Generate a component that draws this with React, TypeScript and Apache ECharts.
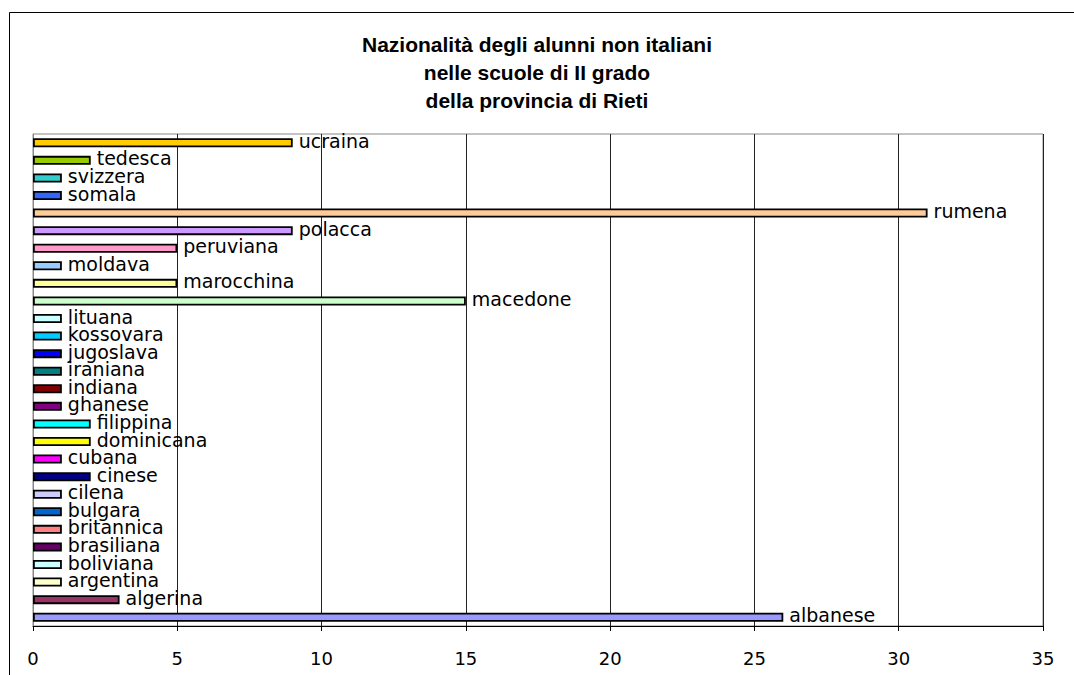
import React, { useEffect, useRef } from "react";
import * as echarts from "echarts";

const categories = [
  "albanese", "algerina", "argentina", "boliviana", "brasiliana", "britannica", "bulgara",
  "cilena", "cinese", "cubana", "dominicana", "filippina", "ghanese", "indiana", "iraniana",
  "jugoslava", "kossovara", "lituana", "macedone", "marocchina", "moldava", "peruviana",
  "polacca", "rumena", "somala", "svizzera", "tedesca", "ucraina",
];
const values = [
  26, 3, 1, 1, 1, 1, 1,
  1, 2, 1, 2, 2, 1, 1, 1,
  1, 1, 1, 15, 5, 1, 5,
  9, 31, 1, 1, 2, 9,
];
const barColors = [
  "#9999FF", "#993366", "#FFFFCC", "#CCFFFF", "#660066", "#FF8080", "#0066CC",
  "#CCCCFF", "#000080", "#FF00FF", "#FFFF00", "#00FFFF", "#800080", "#800000", "#008080",
  "#0000FF", "#00CCFF", "#CCFFFF", "#CCFFCC", "#FFFF99", "#99CCFF", "#FF99CC",
  "#CC99FF", "#FFCC99", "#3366FF", "#33CCCC", "#99CC00", "#FFCC00",
];
const titleLines = [
  "Nazionalità degli alunni non italiani",
  "nelle scuole di II grado",
  "della provincia di Rieti",
];

const TITLE_FONT = "Arial, 'Liberation Sans', Helvetica, sans-serif";
const FONT = "'DejaVu Sans', Verdana, sans-serif";

export default function App() {
  const ref = useRef<HTMLDivElement>(null);
  useEffect(() => {
    if (!ref.current) return;
    const chart = echarts.init(ref.current, null, { renderer: "svg" });
    chart.setOption({
      animation: false,
      backgroundColor: "#ffffff",
      title: {
        text: titleLines.join("\n"),
        left: "center",
        top: 25,
        textStyle: {
          fontFamily: TITLE_FONT,
          fontSize: 21,
          fontWeight: "bold",
          color: "#000",
          lineHeight: 28,
        },
      },
      graphic: [
        {
          type: "rect",
          shape: { x: 9.5, y: 12.5, width: 1100, height: 700 },
          style: { fill: "none", stroke: "#000", lineWidth: 1 },
          silent: true,
        },
      ],
      grid: {
        left: 33,
        right: 31,
        top: 134,
        bottom: 49,
        show: true,
        borderColor: "#888",
        borderWidth: 1,
        containLabel: false,
      },
      xAxis: {
        type: "value",
        min: 0,
        max: 35,
        interval: 5,
        axisLine: { show: true, lineStyle: { color: "#000", width: 1 } },
        axisTick: { show: true, length: 5, lineStyle: { color: "#000" } },
        splitLine: { show: true, lineStyle: { color: "#222", width: 1 } },
        axisLabel: {
          fontFamily: FONT,
          fontSize: 18,
          color: "#000",
          margin: 23,
        },
      },
      yAxis: {
        type: "category",
        data: categories,
        axisLine: { show: true, lineStyle: { color: "#888" } },
        axisTick: { show: false },
        axisLabel: { show: false },
        splitLine: { show: false },
      },
      series: [
        {
          type: "bar",
          barWidth: 9,
          data: values.map((v, i) => ({
            value: v,
            itemStyle: { color: barColors[i], borderColor: "#000", borderWidth: 1.8 },
          })),
          label: {
            show: true,
            position: "right",
            distance: 6,
            formatter: "{b}",
            fontFamily: FONT,
            fontSize: 19,
            color: "#000",
            offset: [0, -2],
          },
        },
      ],
    });
    return () => chart.dispose();
  }, []);
  return (
    <div
      ref={ref}
      style={{ position: "absolute", left: 0, top: 0, width: 1074, height: 675 }}
    />
  );
}
